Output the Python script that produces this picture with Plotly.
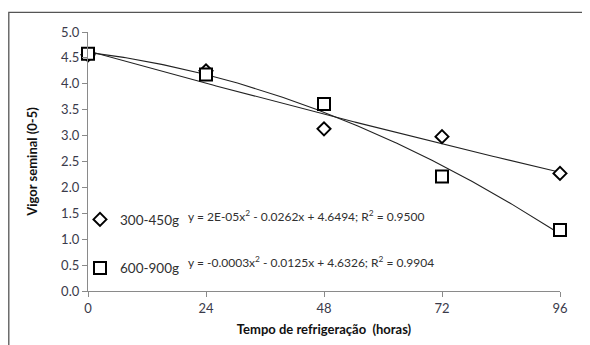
import numpy as np
import plotly.graph_objects as go

hours = [0, 24, 48, 72, 96]
vigor_300_450 = [4.56, 4.25, 3.13, 2.98, 2.27]
vigor_600_900 = [4.58, 4.18, 3.61, 2.21, 1.18]
series_names = ["300-450g", "600-900g"]
equations = [
    "y = 2E-05x<sup>2</sup> - 0.0262x + 4.6494; R<sup>2</sup> = 0.9500",
    "y = -0.0003x<sup>2</sup> - 0.0125x + 4.6326; R<sup>2</sup> = 0.9904",
]
x_ticks = [0, 24, 48, 72, 96]
y_ticks = [0, 0.5, 1, 1.5, 2, 2.5, 3, 3.5, 4, 4.5, 5]

FONT = "Lato"
TICKC = "#3a3a4a"

fig = go.Figure()

xs = np.linspace(0, 96, 200)
for ys in (vigor_300_450, vigor_600_900):
    c = np.polyfit(hours, ys, 2)
    fig.add_trace(go.Scatter(x=xs, y=np.polyval(c, xs), mode="lines",
                             line=dict(color="#222222", width=1.1),
                             showlegend=False, hoverinfo="skip"))

fig.add_trace(go.Scatter(x=hours, y=vigor_300_450, mode="markers", name=series_names[0],
                         legendgroup="a",
                         marker=dict(symbol="diamond", size=10, color="white",
                                     line=dict(color="black", width=2)),
                         cliponaxis=False))
fig.add_trace(go.Scatter(x=hours, y=vigor_600_900, mode="markers", name=series_names[1],
                         legendgroup="b",
                         marker=dict(symbol="square", size=12, color="white",
                                     line=dict(color="black", width=2)),
                         cliponaxis=False))

W, H = 590, 345
OFF = 8  # page body margin
# target page-pixel positions of the plot area
PL, PR, PT, PB = 88, 560, 31.7, 291
L, R, T, B = PL - OFF, W - (PR - OFF), PT - OFF, H - (PB - OFF)

def py(p):
    return 1 - (p - PT) / (PB - PT)

def px(p):
    return (p - PL) / (PR - PL)

for i, eq in enumerate(equations):
    fig.add_annotation(text=eq, xref="paper", yref="paper", x=px(186), y=py([216, 262][i]),
                       xanchor="left", yanchor="middle", showarrow=False,
                       font=dict(family=FONT, size=12, color="#303030"))

fig.add_shape(type="rect", xref="paper", yref="paper",
              x0=px(8.8), x1=px(620), y0=py(380), y1=py(12),
              line=dict(color="#555555", width=1.3), fillcolor="rgba(0,0,0,0)", layer="below")

fig.update_layout(
    width=W, height=H,
    margin=dict(l=L, r=R, t=T, b=B, pad=0),
    paper_bgcolor="white", plot_bgcolor="white",
    font=dict(family=FONT, size=13, color=TICKC),
    showlegend=True,
    legend=dict(x=px(80), y=py(204), xanchor="left", yanchor="top",
                bgcolor="rgba(0,0,0,0)", tracegroupgap=28,
                font=dict(family=FONT, size=13.5, color="#303030"),
                itemwidth=30),
    xaxis=dict(range=[0, 96], tickvals=x_ticks, showgrid=False, zeroline=False,
               showline=True, linecolor="#8a8a8a", linewidth=1.3,
               ticks="outside", ticklen=5, tickcolor="#8a8a8a",
               tickfont=dict(family=FONT, size=13, color=TICKC),
               title=dict(text="<b>Tempo de refrigeração  (horas)</b>", standoff=10,
                          font=dict(family=FONT, size=13, color="#111111"))),
    yaxis=dict(range=[0, 5], tickvals=y_ticks, tickformat=".1f", showgrid=False, zeroline=False,
               showline=True, linecolor="#8a8a8a", linewidth=1.3,
               ticks="outside", ticklen=5, tickcolor="#8a8a8a",
               tickfont=dict(family=FONT, size=13, color=TICKC),
               title=dict(text="<b>Vigor seminal (0-5)</b>", standoff=20,
                          font=dict(family=FONT, size=13, color="#111111"))),
)

fig.write_html("out.html")
